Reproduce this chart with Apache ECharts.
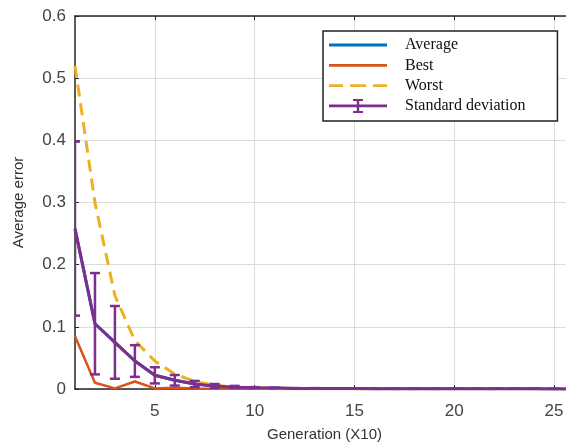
<!DOCTYPE html>
<html>
<head>
<meta charset="utf-8">
<script src="https://cdn.jsdelivr.net/npm/echarts@6/dist/echarts.min.js"></script>
<style>html,body{margin:0;padding:0;background:#fff;}#c{width:566px;height:442px;}</style>
</head>
<body>
<div id="c"></div>
<script>
var generations = [1,2,3,4,5,6,7,8,9,10,11,12,13,14,15,16,17,18,19,20,21,22,23,24,25,26];
var averageErr = [0.258,0.105,0.075,0.045,0.022,0.014,0.008,0.005,0.003,0.002,0.0015,0.001,0.001,0.0008,0.0007,0.0006,0.0005,0.0005,0.0004,0.0004,0.0003,0.0003,0.0003,0.0003,0.0002,0.0002];
var bestErr = [0.085,0.010,0.001,0.012,0.001,0.002,0.001,0.0005,0.0004,0.0003,0.0002,0.0002,0.0001,0.0001,0.0001,0.0001,0.0001,0.0001,0.0001,0.0001,0.0001,0.0001,0.0001,0.0001,0.0001,0.0001];
var worstErr = [0.52,0.30,0.15,0.078,0.045,0.024,0.012,0.006,0.003,0.002,0.0012,0.001,0.0008,0.0007,0.0006,0.0005,0.0005,0.0004,0.0004,0.0004,0.0003,0.0003,0.0003,0.0003,0.0003,0.0003];
var stdDev = [0.14,0.0815,0.0585,0.0255,0.013,0.0085,0.005,0.003,0.002,0.001,0.0006,0.0005,0.0004,0.0003,0.0003,0.0002,0.0002,0.0002,0.0002,0.0002,0.0001,0.0001,0.0001,0.0001,0.0001,0.0001];
var xTickValues = [5,10,15,20,25];
var seriesNames = ['Average','Best','Worst','Standard deviation'];

function pairs(vals){ return generations.map(function(g,i){ return [g, vals[i]]; }); }
var errData = generations.map(function(g,i){ return [g, averageErr[i]-stdDev[i], averageErr[i]+stdDev[i]]; });

var lineIcon = 'path://M0,0L0.01,0L0,0.01Z M0,5.6L58,5.6L58,8.4L0,8.4Z M57.99,14L58,14L58,13.99Z';
var dashIcon = 'path://M0,0L0.01,0L0,0.01Z M0,5.6L14,5.6L14,8.4L0,8.4Z M21,5.6L37,5.6L37,8.4L21,8.4Z M44,5.6L58,5.6L58,8.4L44,8.4Z M57.99,14L58,14L58,13.99Z';
var errIcon = 'path://M0,5.6L27.8,5.6L27.8,2L24,2L24,0L34,0L34,2L30.2,2L30.2,5.6L58,5.6L58,8.4L30.2,8.4L30.2,12L34,12L34,14L24,14L24,12L27.8,12L27.8,8.4L0,8.4Z';

var chart = echarts.init(document.getElementById('c'), null, {renderer:'canvas'});
var axisColor = '#262626';
chart.setOption({
  animation: false,
  backgroundColor: '#fff',
  grid: { left: 75, top: 16, right: -8, bottom: 53, containLabel: false, outerBoundsMode: 'none' },
  legend: {
    orient: 'vertical', left: 323, top: 31,
    padding: [6, 32, 7, 6],
    itemWidth: 58, itemHeight: 14, itemGap: 4.3,
    backgroundColor: '#fff', borderColor: '#222', borderWidth: 1.5, borderRadius: 0,
    itemStyle: { borderWidth: 0 },
    textStyle: { fontFamily: 'Liberation Serif', fontSize: 16, color: '#111', padding: [0,0,0,13] },
    data: [
      { name: 'Average', icon: lineIcon },
      { name: 'Best', icon: lineIcon },
      { name: 'Worst', icon: dashIcon },
      { name: 'Standard deviation', icon: errIcon }
    ]
  },
  xAxis: [{
    type: 'value', min: 1, max: 26, position: 'bottom',
    name: 'Generation (X10)', nameLocation: 'middle', nameGap: 38,
    nameTextStyle: { fontFamily: 'Liberation Sans', fontSize: 15, color: '#333' },
    axisLine: { show: true, lineStyle: { color: axisColor, width: 1.5 } },
    axisTick: { show: true, inside: true, length: 4, customValues: xTickValues, lineStyle: { color: axisColor } },
    axisLabel: { customValues: xTickValues, fontFamily: 'Liberation Sans', fontSize: 17, color: '#444', margin: 14 },
    splitLine: { show: true, lineStyle: { color: '#dcdcdc', width: 1 } }
  }, {
    type: 'value', min: 1, max: 26, position: 'top',
    axisLine: { show: true, onZero: false, lineStyle: { color: axisColor, width: 1.5 } },
    axisTick: { show: true, inside: true, length: 4, customValues: xTickValues, lineStyle: { color: axisColor } },
    axisLabel: { show: false },
    splitLine: { show: false }
  }],
  yAxis: {
    type: 'value', min: 0, max: 0.6, interval: 0.1,
    name: 'Average error', nameLocation: 'middle', nameGap: 49, nameRotate: 90,
    nameTextStyle: { fontFamily: 'Liberation Sans', fontSize: 15, color: '#333' },
    axisLine: { show: true, lineStyle: { color: axisColor, width: 1.5 } },
    axisTick: { show: true, inside: true, length: 4, lineStyle: { color: axisColor } },
    axisLabel: { fontFamily: 'Liberation Sans', fontSize: 17, color: '#444', margin: 9,
      formatter: function(v){ return String(+v.toFixed(1)); } },
    splitLine: { show: true, lineStyle: { color: '#dcdcdc', width: 1 } }
  },
  series: [
    { name: seriesNames[0], type: 'line', data: pairs(averageErr), showSymbol: false, symbol: 'none',
      lineStyle: { color: '#0072BD', width: 3 }, itemStyle: { color: '#0072BD' }, z: 2 },
    { name: seriesNames[1], type: 'line', data: pairs(bestErr), showSymbol: false, symbol: 'none',
      lineStyle: { color: '#D95319', width: 2.5 }, itemStyle: { color: '#D95319' }, z: 3 },
    { name: seriesNames[2], type: 'line', data: pairs(worstErr), showSymbol: false, symbol: 'none',
      lineStyle: { color: '#EDB120', width: 3, type: [12, 7] }, itemStyle: { color: '#EDB120' }, z: 4 },
    { name: seriesNames[3], type: 'line', data: pairs(averageErr), showSymbol: false, symbol: 'none',
      lineStyle: { color: '#7E2F8E', width: 3 }, itemStyle: { color: '#7E2F8E' }, z: 5 },
    { name: seriesNames[3], type: 'custom', data: errData, z: 6, clip: true,
      itemStyle: { color: '#7E2F8E' },
      encode: { x: 0, y: [1, 2] },
      renderItem: function(params, api){
        var x = api.value(0);
        var lo = api.coord([x, api.value(1)]);
        var hi = api.coord([x, api.value(2)]);
        var hw = 5;
        var st = { stroke: '#7E2F8E', lineWidth: 2.5, fill: 'none' };
        return { type: 'group', children: [
          { type: 'line', shape: { x1: lo[0], y1: lo[1], x2: hi[0], y2: hi[1] }, style: st },
          { type: 'line', shape: { x1: lo[0]-hw, y1: lo[1], x2: lo[0]+hw, y2: lo[1] }, style: st },
          { type: 'line', shape: { x1: hi[0]-hw, y1: hi[1], x2: hi[0]+hw, y2: hi[1] }, style: st }
        ]};
      }
    }
  ]
});
</script>
</body>
</html>
